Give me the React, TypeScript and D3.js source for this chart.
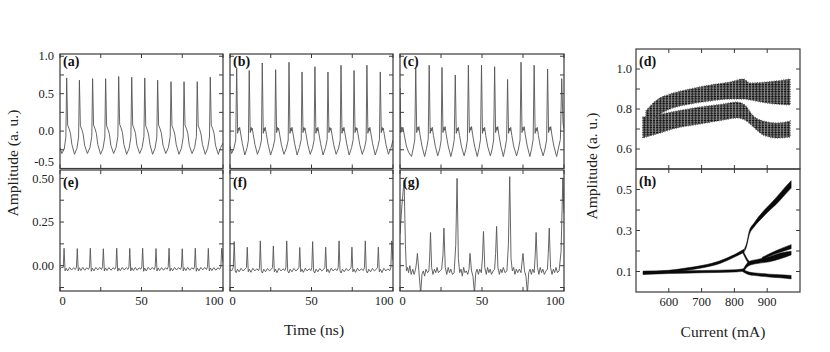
import * as d3 from 'd3';

type Pt = [number, number];

const font = "'Liberation Serif', 'DejaVu Serif', serif";
const ink = '#3a3a3a';

// ---- axis ticks ----
const timeTicks = [0, 25, 50, 75, 100];
const timeLabels = [0, 50, 100];
const pulseTicks = [-0.5, -0.25, 0, 0.25, 0.5, 0.75, 1];
const pulseLabels = [-0.5, 0, 0.5, 1];
const smallTicks = [-0.125, 0, 0.125, 0.25, 0.375, 0.5];
const smallLabels = [0, 0.25, 0.5];
const currentTicks = [600, 700, 800, 900];
const dTicks = [0.6, 0.7, 0.8, 0.9, 1.0];
const dLabels = [0.6, 0.8, 1.0];
const hTicks = [0.1, 0.2, 0.3, 0.4, 0.5];
const hLabels = [0.1, 0.3, 0.5];

// ---- time traces (ns, amplitude) ----
const traceA: Pt[] = [
  [0,-0.22],[1.1,-0.30],[2.6,-0.24],[3.6,-0.08],
  [4.1,0.71],[4.7,0.08],[5.6,0.03],[6.4,-0.03],[7.3,-0.18],[8.9,-0.31],[10.4,-0.23],[11.4,-0.08],
  [11.9,0.68],[12.5,0.07],[13.4,0.02],[14.2,-0.04],[15.1,-0.19],[16.8,-0.30],[18.4,-0.22],[19.5,-0.07],
  [20.0,0.70],[20.6,0.08],[21.5,0.03],[22.3,-0.03],[23.2,-0.18],[24.9,-0.31],[26.4,-0.23],[27.5,-0.08],
  [28.0,0.70],[28.6,0.07],[29.5,0.02],[30.3,-0.04],[31.2,-0.19],[32.9,-0.30],[34.4,-0.22],[35.5,-0.07],
  [36.0,0.73],[36.6,0.09],[37.5,0.04],[38.3,-0.02],[39.2,-0.18],[40.9,-0.31],[42.4,-0.23],[43.5,-0.08],
  [44.0,0.72],[44.6,0.08],[45.5,0.03],[46.3,-0.03],[47.2,-0.19],[48.9,-0.30],[50.4,-0.22],[51.5,-0.07],
  [52.0,0.71],[52.6,0.07],[53.5,0.02],[54.3,-0.04],[55.2,-0.18],[56.8,-0.31],[58.3,-0.23],[59.4,-0.08],
  [59.9,0.68],[60.5,0.08],[61.4,0.03],[62.2,-0.03],[63.2,-0.19],[64.9,-0.30],[66.5,-0.22],[67.6,-0.07],
  [68.1,0.66],[68.7,0.07],[69.6,0.02],[70.4,-0.04],[71.3,-0.18],[73.0,-0.31],[74.5,-0.23],[75.6,-0.08],
  [76.1,0.66],[76.7,0.08],[77.6,0.03],[78.4,-0.03],[79.3,-0.19],[81.0,-0.30],[82.6,-0.22],[83.7,-0.07],
  [84.2,0.66],[84.8,0.07],[85.7,0.02],[86.5,-0.04],[87.4,-0.18],[89.1,-0.31],[90.6,-0.23],[91.7,-0.08],
  [92.2,0.72],[92.8,0.08],[93.7,0.03],[94.5,-0.03],[95.4,-0.19],[97.1,-0.31],[98.6,-0.22],[100,-0.16],
];

const traceB: Pt[] = [
  [0,-0.20],[1.0,-0.30],[2.4,-0.23],[3.5,-0.12],
  [4.1,0.83],[4.7,-0.03],[5.2,0.04],[5.5,0.01],[5.9,0.05],[6.6,-0.04],[7.6,-0.17],[9.1,-0.32],[10.5,-0.22],[11.3,-0.12],
  [11.8,0.81],[12.4,-0.02],[12.9,0.05],[13.2,0.01],[13.6,0.04],[14.3,-0.05],[15.3,-0.18],[16.8,-0.31],[18.2,-0.23],[19.3,-0.12],
  [19.8,0.91],[20.4,-0.03],[20.9,0.04],[21.2,0.00],[21.6,0.05],[22.3,-0.04],[23.3,-0.17],[24.9,-0.32],[26.4,-0.22],[27.5,-0.11],
  [28.0,0.82],[28.6,-0.02],[29.1,0.05],[29.4,0.01],[29.8,0.04],[30.5,-0.05],[31.5,-0.18],[33.1,-0.31],[34.6,-0.23],[35.7,-0.12],
  [36.2,0.92],[36.8,-0.03],[37.3,0.04],[37.6,0.00],[38.0,0.05],[38.7,-0.04],[39.7,-0.17],[41.2,-0.32],[42.6,-0.22],[43.7,-0.11],
  [44.2,0.79],[44.8,-0.02],[45.3,0.05],[45.6,0.01],[46.0,0.04],[46.7,-0.05],[47.7,-0.18],[49.2,-0.31],[50.6,-0.23],[51.6,-0.12],
  [52.1,0.86],[52.7,-0.03],[53.2,0.04],[53.5,0.00],[53.9,0.05],[54.6,-0.04],[55.6,-0.17],[57.1,-0.32],[58.6,-0.22],[59.6,-0.11],
  [60.1,0.79],[60.7,-0.02],[61.2,0.05],[61.5,0.01],[61.9,0.04],[62.6,-0.05],[63.6,-0.18],[65.1,-0.31],[66.6,-0.23],[67.6,-0.12],
  [68.1,0.88],[68.7,-0.03],[69.2,0.04],[69.5,0.00],[69.9,0.05],[70.6,-0.04],[71.6,-0.17],[73.1,-0.32],[74.6,-0.22],[75.6,-0.11],
  [76.1,0.81],[76.7,-0.02],[77.2,0.05],[77.5,0.01],[77.9,0.04],[78.6,-0.05],[79.6,-0.18],[81.1,-0.31],[82.5,-0.23],[83.5,-0.12],
  [84.0,0.88],[84.6,-0.03],[85.1,0.04],[85.4,0.00],[85.8,0.05],[86.5,-0.04],[87.5,-0.17],[89.1,-0.32],[90.6,-0.22],[91.7,-0.11],
  [92.2,0.79],[92.8,-0.02],[93.3,0.05],[93.6,0.01],[94.0,0.04],[94.7,-0.05],[95.7,-0.18],[97.2,-0.31],[98.7,-0.23],[100,-0.12],
];

const traceC: Pt[] = [
  [0,0.58],[0.5,-0.02],[1.0,0.05],[1.4,0.01],[1.8,0.05],[2.6,-0.05],[3.9,-0.20],[5.2,-0.28],[7.0,-0.34],[8.0,-0.24],[9.0,-0.12],
  [9.6,0.84],[10.2,-0.02],[10.7,0.05],[11.1,0.01],[11.5,0.06],[12.2,-0.05],[13.4,-0.20],[15.0,-0.34],[16.2,-0.23],[17.2,-0.11],
  [17.8,0.88],[18.4,-0.03],[18.9,0.04],[19.3,0.00],[19.7,0.05],[20.4,-0.06],[21.6,-0.21],[23.0,-0.33],[24.2,-0.24],[25.1,-0.12],
  [25.6,0.85],[26.2,-0.02],[26.7,0.05],[27.1,0.01],[27.5,0.06],[28.2,-0.05],[29.4,-0.20],[31.0,-0.34],[32.2,-0.23],[33.1,-0.11],
  [33.7,0.75],[34.3,-0.03],[34.8,0.04],[35.2,0.00],[35.6,0.05],[36.3,-0.06],[37.5,-0.21],[39.1,-0.33],[40.2,-0.24],[41.1,-0.12],
  [41.7,0.88],[42.3,-0.02],[42.8,0.05],[43.2,0.01],[43.6,0.06],[44.3,-0.05],[45.5,-0.20],[47.1,-0.34],[48.2,-0.23],[49.1,-0.11],
  [49.7,0.88],[50.3,-0.03],[50.8,0.04],[51.2,0.00],[51.6,0.05],[52.3,-0.06],[53.5,-0.21],[55.1,-0.33],[56.2,-0.24],[57.1,-0.12],
  [57.7,0.86],[58.3,-0.02],[58.8,0.05],[59.2,0.01],[59.6,0.06],[60.3,-0.05],[61.5,-0.20],[63.0,-0.34],[64.1,-0.23],[65.0,-0.11],
  [65.6,0.69],[66.2,-0.03],[66.7,0.04],[67.1,0.00],[67.5,0.05],[68.2,-0.06],[69.4,-0.21],[71.1,-0.33],[72.2,-0.24],[73.2,-0.12],
  [73.8,0.92],[74.4,-0.02],[74.9,0.05],[75.3,0.01],[75.7,0.06],[76.4,-0.05],[77.6,-0.20],[79.2,-0.34],[80.3,-0.23],[81.2,-0.11],
  [81.8,0.88],[82.4,-0.03],[82.9,0.04],[83.3,0.00],[83.7,0.05],[84.4,-0.06],[85.6,-0.21],[87.3,-0.33],[88.4,-0.24],[89.4,-0.12],
  [90.0,0.83],[90.6,-0.02],[91.1,0.05],[91.5,0.01],[91.9,0.06],[92.6,-0.05],[93.8,-0.20],[95.5,-0.34],[96.6,-0.23],[97.8,-0.11],
  [98.6,0.70],[99.4,0.10],[100,0.03],
];

const traceE: Pt[] = [
  [0,-0.02],[0.9,-0.01],[2.0,-0.01],
  [2.5,0.100],[3.1,-0.030],[3.8,-0.015],[4.7,-0.030],[5.9,-0.010],[7.1,-0.025],[8.3,-0.012],[9.4,-0.022],[10.1,-0.008],
  [10.6,0.098],[11.2,-0.030],[11.9,-0.012],[12.8,-0.028],[14.0,-0.010],[15.2,-0.026],[16.4,-0.012],[17.5,-0.020],[18.1,-0.008],
  [18.6,0.100],[19.2,-0.032],[19.9,-0.014],[20.8,-0.030],[22.0,-0.010],[23.2,-0.024],[24.4,-0.010],[25.5,-0.022],[26.1,-0.006],
  [26.6,0.097],[27.2,-0.030],[27.9,-0.013],[28.8,-0.028],[30.0,-0.011],[31.3,-0.026],[32.5,-0.012],[33.7,-0.020],[34.3,-0.007],
  [34.8,0.100],[35.4,-0.031],[36.1,-0.014],[37.0,-0.029],[38.2,-0.010],[39.4,-0.025],[40.6,-0.011],[41.7,-0.021],[42.3,-0.008],
  [42.8,0.099],[43.4,-0.030],[44.1,-0.012],[45.0,-0.028],[46.2,-0.010],[47.3,-0.026],[48.5,-0.012],[49.6,-0.020],[50.2,-0.007],
  [50.7,0.100],[51.3,-0.032],[52.0,-0.014],[52.9,-0.030],[54.1,-0.010],[55.4,-0.024],[56.6,-0.010],[57.8,-0.022],[58.4,-0.006],
  [58.9,0.098],[59.5,-0.030],[60.2,-0.013],[61.1,-0.028],[62.3,-0.011],[63.5,-0.026],[64.7,-0.012],[65.8,-0.020],[66.4,-0.007],
  [66.9,0.100],[67.5,-0.031],[68.2,-0.014],[69.1,-0.029],[70.3,-0.010],[71.5,-0.025],[72.7,-0.011],[73.9,-0.021],[74.5,-0.008],
  [75.0,0.097],[75.6,-0.030],[76.3,-0.012],[77.2,-0.028],[78.4,-0.010],[79.6,-0.026],[80.8,-0.012],[81.9,-0.020],[82.5,-0.007],
  [83.0,0.100],[83.6,-0.032],[84.3,-0.014],[85.2,-0.030],[86.4,-0.010],[87.6,-0.024],[88.8,-0.010],[89.9,-0.022],[90.5,-0.006],
  [91.0,0.099],[91.6,-0.030],[92.3,-0.013],[93.2,-0.028],[94.4,-0.011],[95.6,-0.026],[96.8,-0.012],[98.0,-0.020],[98.7,-0.007],
  [99.2,0.100],[100,0.02],
];

const traceF: Pt[] = [
  [0,-0.02],[1.0,-0.03],[2.0,-0.01],
  [2.6,0.138],[3.2,-0.030],[3.8,-0.040],[4.6,-0.020],[5.6,-0.035],[6.8,-0.015],[8.0,-0.030],[9.2,-0.020],[10.1,-0.010],
  [10.6,0.106],[11.2,-0.035],[11.9,-0.020],[12.8,-0.038],[14.0,-0.015],[15.2,-0.030],[16.4,-0.018],[17.6,-0.028],[18.1,-0.010],
  [18.6,0.142],[19.2,-0.030],[19.9,-0.042],[20.7,-0.020],[21.8,-0.035],[23.0,-0.016],[24.2,-0.030],[25.4,-0.020],[26.1,-0.010],
  [26.6,0.113],[27.2,-0.035],[27.9,-0.020],[28.8,-0.040],[30.0,-0.015],[31.3,-0.030],[32.5,-0.018],[33.7,-0.028],[34.3,-0.010],
  [34.8,0.142],[35.4,-0.030],[36.1,-0.042],[36.9,-0.020],[38.0,-0.035],[39.2,-0.016],[40.4,-0.030],[41.6,-0.020],[42.3,-0.010],
  [42.8,0.104],[43.4,-0.035],[44.1,-0.020],[45.0,-0.038],[46.2,-0.015],[47.3,-0.030],[48.5,-0.018],[49.7,-0.028],[50.2,-0.010],
  [50.7,0.138],[51.3,-0.030],[52.0,-0.042],[52.8,-0.020],[53.9,-0.035],[55.1,-0.016],[56.3,-0.030],[57.5,-0.020],[58.2,-0.010],
  [58.7,0.106],[59.3,-0.035],[60.0,-0.020],[60.9,-0.040],[62.1,-0.015],[63.3,-0.030],[64.5,-0.018],[65.7,-0.028],[66.4,-0.010],
  [66.9,0.142],[67.5,-0.030],[68.2,-0.042],[69.0,-0.020],[70.1,-0.035],[71.3,-0.016],[72.5,-0.030],[73.6,-0.020],[74.3,-0.010],
  [74.8,0.106],[75.4,-0.035],[76.1,-0.020],[77.0,-0.038],[78.2,-0.015],[79.4,-0.030],[80.6,-0.018],[81.8,-0.028],[82.5,-0.010],
  [83.0,0.142],[83.6,-0.030],[84.3,-0.042],[85.1,-0.020],[86.2,-0.035],[87.4,-0.016],[88.6,-0.030],[89.8,-0.020],[90.5,-0.010],
  [91.0,0.106],[91.6,-0.035],[92.3,-0.020],[93.2,-0.040],[94.4,-0.015],[95.6,-0.030],[96.8,-0.018],[98.0,-0.028],[98.7,-0.010],
  [99.2,0.142],[100,0.03],
];

const traceG: Pt[] = [
  [0,0.18],[1.2,0.35],[2.5,0.49],[3.3,0.12],[3.9,-0.03],[4.6,-0.01],[5.2,-0.04],[6.0,0.00],[6.8,-0.05],[7.8,-0.02],[8.6,-0.05],[9.5,-0.02],
  [10.1,0.02],[10.6,0.07],[11.5,-0.03],[12.6,-0.16],[13.4,-0.05],[14.2,-0.03],[15.0,-0.06],[15.8,-0.02],[16.8,-0.04],[17.6,-0.03],
  [18.1,0.05],[18.6,0.19],[19.3,-0.01],[20.1,-0.05],[21.0,-0.02],[21.8,-0.04],[22.6,-0.01],[23.4,-0.04],[24.4,-0.03],[25.4,-0.02],
  [26.2,0.06],[26.8,0.215],[27.6,-0.01],[28.5,-0.05],[29.4,-0.01],[30.2,-0.04],[31.0,-0.02],[32.0,-0.05],[33.0,-0.04],
  [34.0,0.12],[34.8,0.50],[35.6,0.04],[36.4,-0.04],[37.2,-0.02],[38.0,-0.06],[38.8,-0.01],[39.6,-0.04],[40.4,-0.03],[41.3,-0.05],[42.1,-0.02],
  [42.7,0.07],[43.6,-0.03],[44.5,-0.06],[45.4,-0.16],[46.2,-0.04],[47.0,-0.02],[47.8,-0.05],[48.6,-0.02],[49.6,-0.04],
  [50.3,0.05],[50.9,0.196],[51.7,-0.01],[52.6,-0.05],[53.4,-0.01],[54.2,-0.04],[55.0,-0.02],[55.8,-0.05],[56.8,-0.03],[57.7,-0.02],
  [58.3,0.07],[58.9,0.225],[59.7,-0.01],[60.6,-0.05],[61.4,-0.02],[62.2,-0.04],[63.0,-0.01],[64.0,-0.04],[65.2,-0.03],
  [66.1,0.12],[66.9,0.51],[67.7,0.04],[68.5,-0.03],[69.3,-0.01],[70.1,-0.05],[70.9,-0.02],[71.8,-0.04],[72.8,-0.02],[73.8,-0.04],
  [74.4,0.02],[75.0,0.07],[75.9,-0.03],[76.8,-0.06],[77.7,-0.16],[78.5,-0.04],[79.3,-0.02],[80.1,-0.05],[80.9,-0.02],[81.8,-0.04],
  [82.4,0.05],[83.0,0.19],[83.8,-0.01],[84.7,-0.05],[85.5,-0.01],[86.3,-0.04],[87.1,-0.02],[88.0,-0.05],[89.0,-0.03],[89.9,-0.02],
  [90.4,0.07],[91.0,0.215],[91.8,-0.01],[92.7,-0.05],[93.5,-0.02],[94.3,-0.04],[95.1,-0.01],[96.0,-0.04],[97.0,-0.03],
  [98.2,0.08],[99.3,0.50],[100,0.30],
];

// ---- (d) peak amplitude bands vs current (mA) ----
const dLowI = [520, 563, 624, 695, 766, 807, 832, 858, 888, 929, 970];
const dLowHi = [0.76, 0.77, 0.79, 0.81, 0.825, 0.835, 0.82, 0.765, 0.74, 0.73, 0.74];
const dLowLo = [0.655, 0.675, 0.705, 0.725, 0.745, 0.755, 0.745, 0.71, 0.67, 0.655, 0.66];
const dUpI = [530, 563, 604, 665, 726, 787, 827, 848, 898, 970];
const dUpHi = [0.79, 0.845, 0.875, 0.90, 0.92, 0.935, 0.95, 0.93, 0.935, 0.95];
const dUpLo = [0.74, 0.765, 0.80, 0.825, 0.84, 0.85, 0.85, 0.845, 0.83, 0.82];

// ---- (h) bifurcation branches vs current (mA) ----
const hUpPreI = [522, 600, 652, 703, 754, 805, 829];
const hUpPreLo = [0.086, 0.095, 0.105, 0.118, 0.138, 0.174, 0.194];
const hUpPreHi = [0.101, 0.106, 0.117, 0.130, 0.151, 0.187, 0.208];
const hLowPreI = [522, 600, 703, 805, 829];
const hLowPreLo = [0.086, 0.090, 0.094, 0.098, 0.101];
const hLowPreHi = [0.101, 0.102, 0.105, 0.109, 0.113];
const hTopI = [831, 837, 845, 860, 886, 910, 927, 950, 973];
const hTopLo = [0.198, 0.222, 0.277, 0.317, 0.364, 0.402, 0.427, 0.467, 0.507];
const hTopHi = [0.212, 0.236, 0.295, 0.336, 0.390, 0.430, 0.460, 0.503, 0.543];
const hLinkI = [826, 836, 846];
const hLinkLo = [0.190, 0.157, 0.132];
const hLinkHi = [0.205, 0.171, 0.147];
const hMidI = [828, 845, 870, 906, 940, 973];
const hMidLo = [0.101, 0.129, 0.139, 0.147, 0.162, 0.181];
const hMidHi = [0.114, 0.149, 0.159, 0.172, 0.190, 0.199];
const hMid2I = [885, 930, 973];
const hMid2Lo = [0.159, 0.189, 0.211];
const hMid2Hi = [0.169, 0.204, 0.231];
const hBotI = [826, 845, 870, 906, 940, 973];
const hBotLo = [0.099, 0.084, 0.079, 0.073, 0.069, 0.064];
const hBotHi = [0.111, 0.097, 0.092, 0.087, 0.084, 0.081];

type Scale = d3.ScaleLinear<number, number>;

function Panel({ id, x, y, xTicks, yTicks, xLabels, yLabels, xFmt, yFmt, edgeAnchor, yLabelGap, tag, tagY, children }: any) {
  const [x0, x1] = (x as Scale).range();
  const [y1, y0] = (y as Scale).range();
  const tl = 4;
  return (
    <g>
      <defs>
        <clipPath id={id}>
          <rect x={x0} y={y0} width={x1 - x0} height={y1 - y0} />
        </clipPath>
      </defs>
      <g clipPath={`url(#${id})`}>{children}</g>
      <rect x={x0} y={y0} width={x1 - x0} height={y1 - y0} fill="none" stroke={ink} strokeWidth={1.2} />
      {xTicks.map((t: number) => (
        <g key={'xt' + t} stroke={ink} strokeWidth={1}>
          <line x1={x(t)} x2={x(t)} y1={y0} y2={y0 + tl} />
          <line x1={x(t)} x2={x(t)} y1={y1} y2={y1 - tl} />
        </g>
      ))}
      {yTicks.map((t: number) => (
        <g key={'yt' + t} stroke={ink} strokeWidth={1}>
          <line x1={x0} x2={x0 + tl} y1={y(t)} y2={y(t)} />
          <line x1={x1} x2={x1 - tl} y1={y(t)} y2={y(t)} />
        </g>
      ))}
      {(xLabels || []).map((t: number, i: number, arr: number[]) => {
        let anchor = 'middle';
        let px = x(t);
        if (edgeAnchor && i === 0) { anchor = 'start'; px -= 0.5; }
        if (edgeAnchor && i === arr.length - 1) { anchor = 'end'; px += 0.5; }
        return (
          <text key={'xl' + t} x={px} y={y1 + 14} textAnchor={anchor} fontSize={12.5} fill="#222">
            {xFmt(t)}
          </text>
        );
      })}
      {(yLabels || []).map((t: number) => (
        <text key={'yl' + t} x={x0 - yLabelGap} y={Math.min(y(t), y1 - 7)} dy="0.34em" textAnchor="end" fontSize={12.5} fill="#222">
          {yFmt(t)}
        </text>
      ))}
      <text x={x0 + 3} y={tagY} fontSize={14} fontWeight="bold" fill="#111">{tag}</text>
    </g>
  );
}

const cols = [[60, 223], [230, 393], [400, 564]];
const topRow = [54, 168.5];
const botRow = [170, 291];
const topTraces = [traceA, traceB, traceC];
const botTraces = [traceE, traceF, traceG];
const topTags = ['(a)', '(b)', '(c)'];
const botTags = ['(e)', '(f)', '(g)'];

function band(x: Scale, y: Scale, I: number[], lo: number[], hi: number[]) {
  const rows = I.map((c, i) => ({ c, lo: lo[i], hi: hi[i] }));
  return d3.area<{ c: number; lo: number; hi: number }>()
    .x(d => x(d.c)).y0(d => y(d.lo)).y1(d => y(d.hi))
    .curve(d3.curveMonotoneX)(rows) || '';
}

export default function App() {
  const fmtTop = (v: number) => v.toFixed(1);
  const fmtBot = (v: number) => v.toFixed(2);

  const xc = d3.scaleLinear().domain([500, 1000]).range([636, 800]);
  const yd = d3.scaleLinear().domain([0.5, 1.1]).range([169, 49]);
  const yh = d3.scaleLinear().domain([0, 0.6]).range([292, 169]);

  const hBands: [number[], number[], number[]][] = [
    [hUpPreI, hUpPreLo, hUpPreHi],
    [hLowPreI, hLowPreLo, hLowPreHi],
    [hTopI, hTopLo, hTopHi],
    [hLinkI, hLinkLo, hLinkHi],
    [hMidI, hMidLo, hMidHi],
    [hMid2I, hMid2Lo, hMid2Hi],
    [hBotI, hBotLo, hBotHi],
  ];
  const dBands: [number[], number[], number[]][] = [
    [dLowI, dLowLo, dLowHi],
    [dUpI, dUpLo, dUpHi],
  ];

  return (
    <svg width={830} height={352} fontFamily={font}
      style={{ position: 'absolute', left: 0, top: 0, background: '#fff' }}>
      <defs>
        <pattern id="speck" width="3.2" height="2.4" patternUnits="userSpaceOnUse">
          <rect x="0" y="0" width="3.2" height="2.4" fill="#8c8c8c" />
          <rect x="0" y="0" width="2.4" height="1.1" fill="#0d0d0d" />
          <rect x="0.6" y="1.2" width="1.2" height="1.2" fill="#2a2a2a" />
        </pattern>
      </defs>

      {cols.map(([x0, x1], i) => {
        const x = d3.scaleLinear().domain([0, 100]).range([x0, x1]);
        const y = d3.scaleLinear().domain([-0.5, 1.03]).range([topRow[1], topRow[0]]);
        const line = d3.line<Pt>().x(d => x(d[0])).y(d => y(d[1]));
        return (
          <Panel key={'top' + i} id={'clipTop' + i} x={x} y={y}
            xTicks={timeTicks} yTicks={pulseTicks}
            yLabels={i === 0 ? pulseLabels : null} yFmt={fmtTop} yLabelGap={6}
            tag={topTags[i]} tagY={66}>
            <path d={line(topTraces[i]) || ''} fill="none" stroke="#555" strokeWidth={0.9} />
          </Panel>
        );
      })}

      {cols.map(([x0, x1], i) => {
        const x = d3.scaleLinear().domain([0, 100]).range([x0, x1]);
        const y = d3.scaleLinear().domain([-0.145, 0.548]).range([botRow[1], botRow[0]]);
        const line = d3.line<Pt>().x(d => x(d[0])).y(d => y(d[1]));
        return (
          <Panel key={'bot' + i} id={'clipBot' + i} x={x} y={y}
            xTicks={timeTicks} yTicks={smallTicks}
            xLabels={timeLabels} xFmt={(v: number) => String(v)} edgeAnchor
            yLabels={i === 0 ? smallLabels : null} yFmt={fmtBot} yLabelGap={6}
            tag={botTags[i]} tagY={187}>
            <path d={line(botTraces[i]) || ''} fill="none" stroke="#555" strokeWidth={0.9} />
          </Panel>
        );
      })}

      <Panel id="clipD" x={xc} y={yd} xTicks={currentTicks} yTicks={dTicks}
        yLabels={dLabels} yFmt={fmtTop} yLabelGap={4} tag="(d)" tagY={66}>
        {dBands.map(([I, lo, hi], i) => (
          <path key={'db' + i} d={band(xc, yd, I, lo, hi)} fill="url(#speck)"
            stroke="#555" strokeWidth={1.3} strokeDasharray="0.8 1.6" />
        ))}
      </Panel>

      <Panel id="clipH" x={xc} y={yh} xTicks={currentTicks} yTicks={hTicks}
        xLabels={currentTicks} xFmt={(v: number) => String(v)}
        yLabels={hLabels} yFmt={fmtTop} yLabelGap={4} tag="(h)" tagY={186}>
        {hBands.map(([I, lo, hi], i) => (
          <path key={'hb' + i} d={band(xc, yh, I, lo, hi)} fill="#0a0a0a" stroke="#0a0a0a" strokeWidth={0.5} />
        ))}
      </Panel>

      <text transform="translate(18,163) rotate(-90)" textAnchor="middle" fontSize={15.5} fill="#222">Amplitude (a. u.)</text>
      <text transform="translate(597,166) rotate(-90)" textAnchor="middle" fontSize={15.5} fill="#222">Amplitude (a. u.)</text>
      <text x={314} y={335} textAnchor="middle" fontSize={15.5} fill="#222">Time (ns)</text>
      <text x={723} y={337} textAnchor="middle" fontSize={15.5} fill="#222">Current (mA)</text>
    </svg>
  );
}
